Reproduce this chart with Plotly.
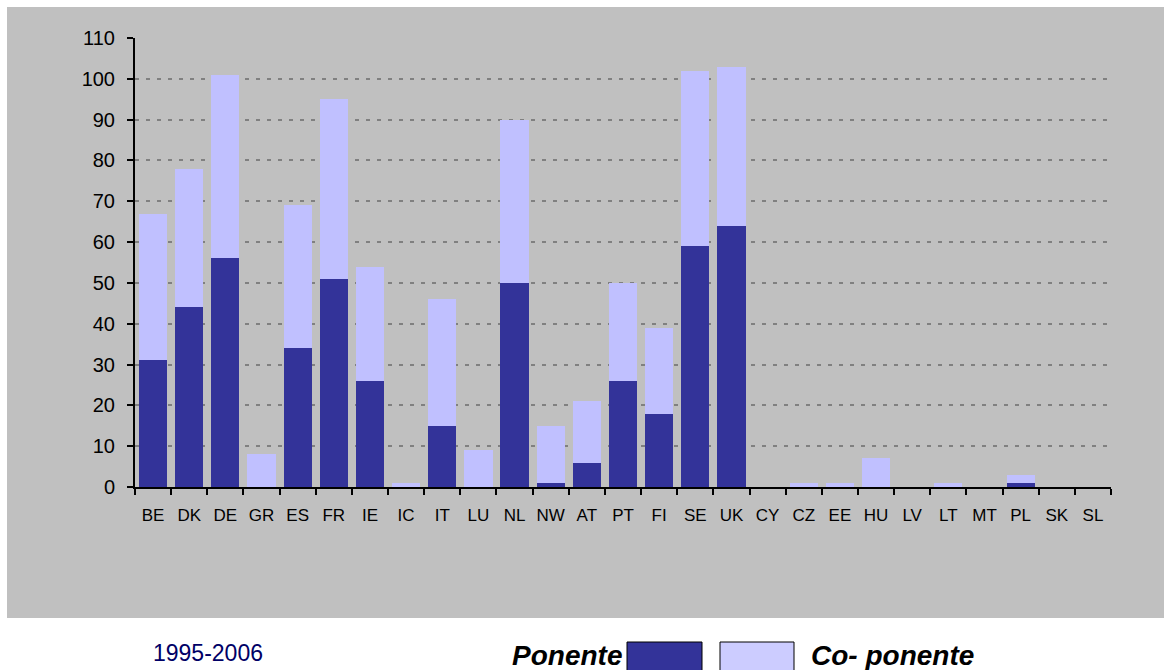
import plotly.graph_objects as go

# Country codes along the category axis
countries = ["BE", "DK", "DE", "GR", "ES", "FR", "IE", "IC", "IT", "LU", "NL", "NW", "AT",
             "PT", "FI", "SE", "UK", "CY", "CZ", "EE", "HU", "LV", "LT", "MT", "PL", "SK", "SL"]

# Projects led (Ponente) and co-led (Co- ponente) per country, 1995-2006
ponente = [31, 44, 56, 0, 34, 51, 26, 0, 15, 0, 50, 1, 6,
           26, 18, 59, 64, 0, 0, 0, 0, 0, 0, 0, 1, 0, 0]
co_ponente = [36, 34, 45, 8, 35, 44, 28, 1, 31, 9, 40, 14, 15,
              24, 21, 43, 39, 0, 1, 1, 7, 0, 1, 0, 2, 0, 0]

y_ticks = list(range(0, 111, 10))

DARK = "#333399"
LIGHT = "#C0C0FF"
LIGHT_KEY = "#CCCCFF"
FONT = "Arial, Liberation Sans, sans-serif"

W, H = 1164, 670
M_L, M_R, M_T, M_B = 135, 53, 38, 183
PW, PH = W - M_L - M_R, H - M_T - M_B


def px_x(x):
    return (x - M_L) / PW


def px_y(y):
    return (H - M_B - y) / PH


fig = go.Figure()
fig.add_trace(go.Bar(x=countries, y=ponente, name="Ponente", marker_color=DARK,
                     marker_line_width=0))
fig.add_trace(go.Bar(x=countries, y=co_ponente, name="Co- ponente", marker_color=LIGHT,
                     marker_line_width=0))

shapes = [
    # grey chart area
    dict(type="rect", xref="paper", yref="paper", layer="below",
         x0=px_x(7), x1=px_x(1170), y0=px_y(618), y1=px_y(7),
         fillcolor="#C0C0C0", line_width=0),
    # legend keys
    dict(type="rect", xref="paper", yref="paper",
         x0=px_x(627), x1=px_x(702), y0=px_y(680), y1=px_y(642),
         fillcolor=DARK, line=dict(color="#000000", width=1)),
    dict(type="rect", xref="paper", yref="paper",
         x0=px_x(720), x1=px_x(794), y0=px_y(680), y1=px_y(642),
         fillcolor=LIGHT_KEY, line=dict(color="#000000", width=1)),
]

annotations = [
    dict(text="1995-2006", xref="paper", yref="paper", x=px_x(151), y=px_y(653),
         xanchor="left", yanchor="middle", showarrow=False,
         font=dict(family=FONT, size=23, color="#000066")),
    dict(text="<b><i>Ponente</i></b>", xref="paper", yref="paper", x=px_x(624), y=px_y(655),
         xanchor="right", yanchor="middle", showarrow=False,
         font=dict(family=FONT, size=28, color="#000000")),
    dict(text="<b><i>Co- ponente</i></b>", xref="paper", yref="paper", x=px_x(809), y=px_y(655),
         xanchor="left", yanchor="middle", showarrow=False,
         font=dict(family=FONT, size=28, color="#000000")),
]

fig.update_layout(
    width=W, height=H,
    margin=dict(l=M_L, r=M_R, t=M_T, b=M_B, pad=0),
    paper_bgcolor="#FFFFFF",
    plot_bgcolor="rgba(0,0,0,0)",
    barmode="stack",
    bargap=0.22,
    showlegend=False,
    shapes=shapes,
    annotations=annotations,
    font=dict(family=FONT, color="#000000"),
)

fig.update_xaxes(
    type="category",
    showline=True, linecolor="#000000", linewidth=2,
    ticks="outside", tickson="boundaries", ticklen=6, tickwidth=2, tickcolor="#000000",
    tickfont=dict(family=FONT, size=17, color="#000000"),
    tickangle=0,
    ticklabelstandoff=12,
    showgrid=False,
)

fig.update_yaxes(
    range=[0, 110],
    tickvals=y_ticks,
    showline=True, linecolor="#000000", linewidth=2,
    ticks="outside", ticklen=6, tickwidth=2, tickcolor="#000000",
    tickfont=dict(family=FONT, size=20, color="#000000"),
    ticklabelstandoff=8,
    showgrid=True, gridcolor="#808080", gridwidth=2, griddash="4px,7px",
    zeroline=False,
)

fig.write_html("out.html")
